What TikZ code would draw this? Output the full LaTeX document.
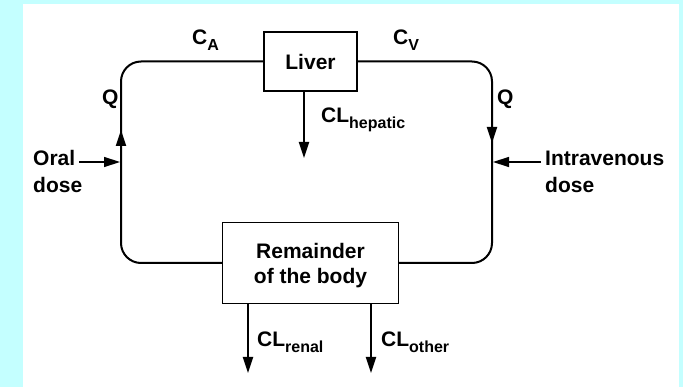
\documentclass[tikz,border=0pt]{standalone}
\usepackage{fontspec}
\setmainfont{Liberation Sans}
\usetikzlibrary{arrows.meta,positioning}
\definecolor{bgcyan}{RGB}{196,255,255}
\newcommand{\lowsub}[1]{\raisebox{-6pt}{\fontsize{16}{16}\selectfont #1}}

\begin{document}
\begin{tikzpicture}[
  x=1pt, y=-1pt,
  box/.style={draw, line width=1.4pt, inner sep=0pt, align=center,
    font=\bfseries\fontsize{21}{26}\selectfont},
  lbl/.style={inner sep=0pt, anchor=base west, font=\bfseries\fontsize{21}{26}\selectfont},
  loopline/.style={line width=2pt, rounded corners=20pt},
  flow/.style={-{Triangle[length=16pt, width=10pt]}, line width=2pt}
]
\useasboundingbox (0,0) rectangle (683,387);
\fill[bgcyan] (0,0) rectangle (683,387);
\fill[white] (23,4) rectangle (679,387);

% compartments
\node[box, minimum width=93pt, minimum height=59pt] (liver) at (310.5,61.5) {Liver};
\node[box, minimum width=176pt, minimum height=81pt, text depth=0pt] (body) at (310.5,263)
  {Remainder\\[-1pt]of the body};

% blood loop
\coordinate (tl) at (121,61.5);
\coordinate (bl) at (121,263);
\coordinate (tr) at (492,61.5);
\coordinate (br) at (492,263);
\draw[loopline] (liver.west) -- (tl) -- (bl) -- (body.west);
\draw[loopline] (liver.east) -- (tr) -- (br) -- (body.east);

% flow direction
\coordinate (uptail) at (121,175);
\coordinate (uptip) at (121,130);
\coordinate (downtail) at (492,110);
\coordinate (downtip) at (492,143);
\draw[flow] (uptail) -- (uptip);
\draw[flow] (downtail) -- (downtip);

% labels on the loop
\node[lbl] (ca) at (192,45) {C\lowsub{A}};
\node[lbl] (cv) at (393,45) {C\lowsub{V}};
\node[lbl] (qleft) at (102,105) {Q};
\node[lbl] (qright) at (497,105) {Q};

% doses
\node[lbl] (oral) at (33,166) {Oral};
\node[lbl] (oraldose) at (33,193) {dose};
\node[lbl] (iv) at (545,166) {Intravenous};
\node[lbl] (ivdose) at (545,193) {dose};
\coordinate (oraltip) at (120,162);
\coordinate (ivtip) at (493,162);
\draw[flow, line width=1.4pt] ([xshift=4pt]oral.east |- oraltip) -- (oraltip);
\draw[flow, line width=1.4pt] ([xshift=-4pt]iv.west |- ivtip) -- (ivtip);

% clearances
\coordinate (heptip) at (304,158);
\draw[flow] (heptip |- liver.south) -- (heptip);
\node[lbl] (hep) at (321,123) {CL\lowsub{hepatic}};
\coordinate (renaltip) at (248,373);
\coordinate (othertip) at (371,373);
\draw[flow] (renaltip |- body.south) -- (renaltip);
\draw[flow] (othertip |- body.south) -- (othertip);
\node[lbl] (renal) at (257,347) {CL\lowsub{renal}};
\node[lbl] (other) at (381,347) {CL\lowsub{other}};
\end{tikzpicture}
\end{document}
